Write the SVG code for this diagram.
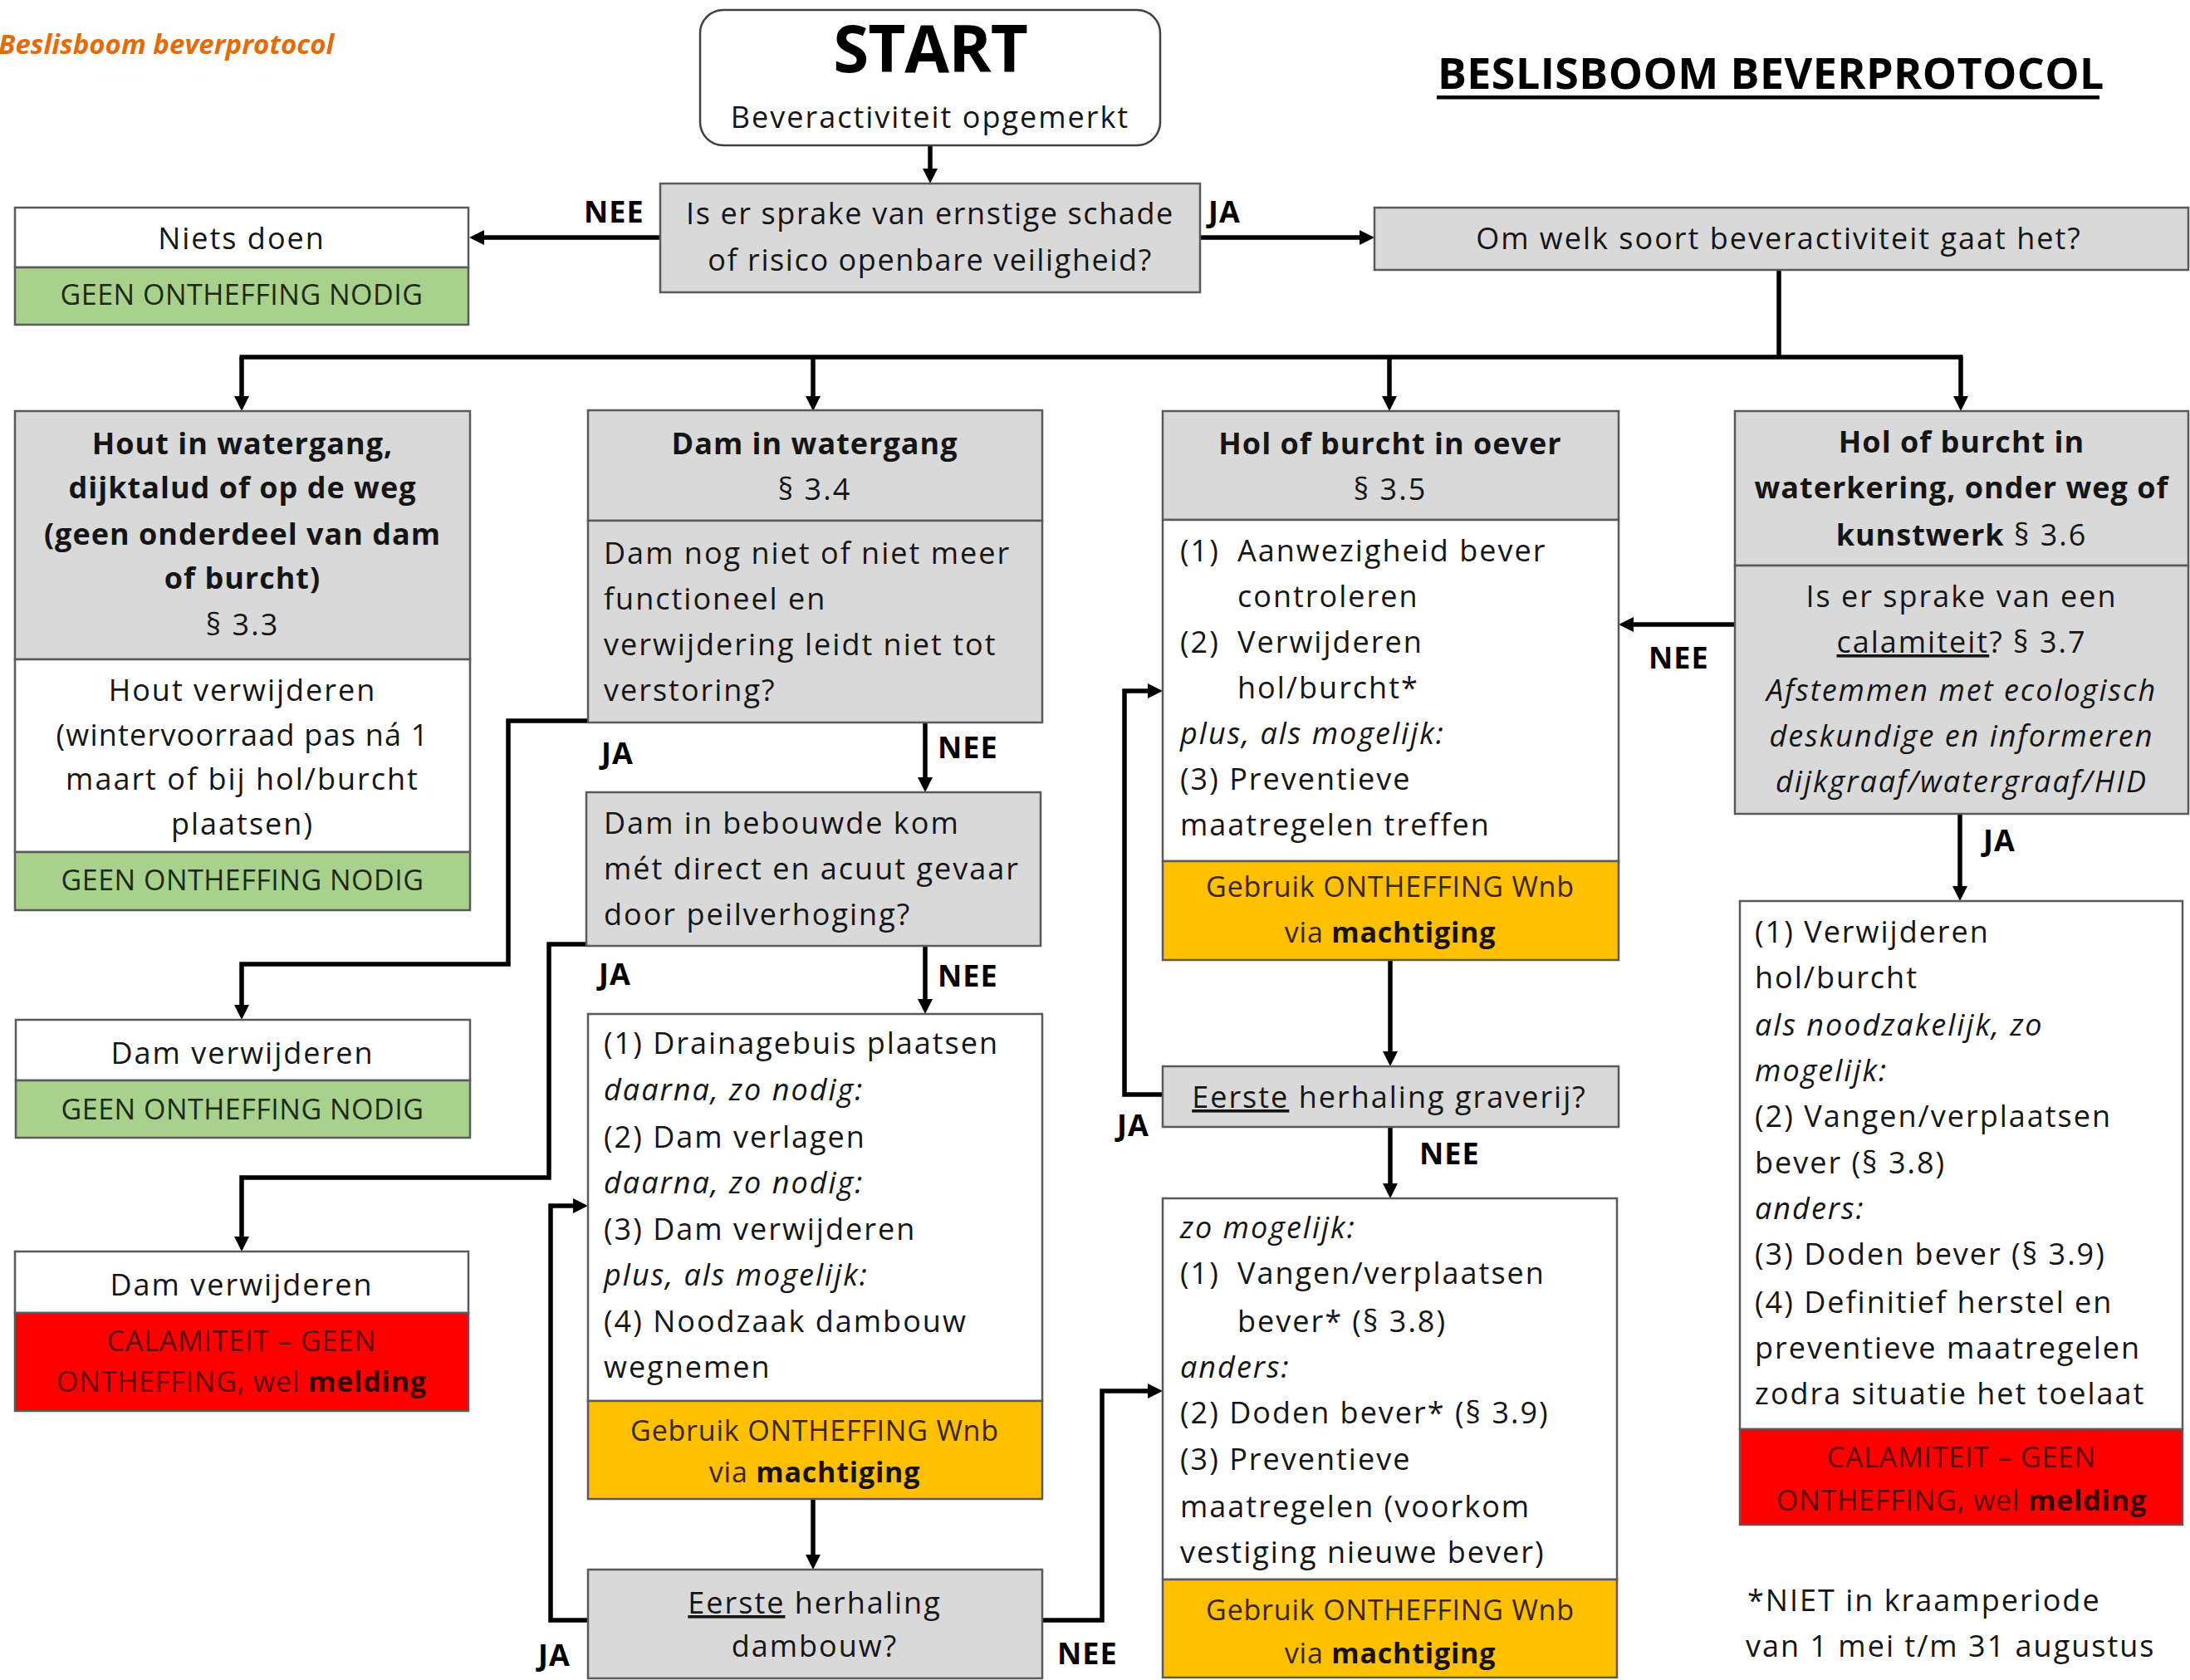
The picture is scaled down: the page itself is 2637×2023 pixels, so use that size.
<svg xmlns="http://www.w3.org/2000/svg" width="2637" height="2023" viewBox="0 0 2637 2023">
<defs>
<style>
text{font-family:"Open Sans","Liberation Sans",sans-serif;font-size:36px;fill:#151515;letter-spacing:2px}
.b{font-weight:bold;letter-spacing:1px}
.it{font-style:italic}
.m{text-anchor:middle}
.caps{font-size:34px;letter-spacing:0.8px}
.gt{fill:#1E2A12}
.ot{fill:#3B2600}
.rt{fill:#600000}
.lbl{font-weight:bold;letter-spacing:1px;fill:#000}
.u{text-decoration:underline}
.gray{fill:#D9D9D9;stroke:#5A5A5A;stroke-width:2.5}
.white{fill:#FFFFFF;stroke:#5A5A5A;stroke-width:2.5}
.green{fill:#A9D18E;stroke:#5A5A5A;stroke-width:2.5}
.orange{fill:#FFC000;stroke:#5A5A5A;stroke-width:2.5}
.red{fill:#FF0000;stroke:#5A5A5A;stroke-width:2.5}
.con{fill:none;stroke:#000;stroke-width:5.5}
.arr{marker-end:url(#ah)}
</style>
<marker id="ah" viewBox="0 0 10 10" refX="0" refY="5" markerWidth="18" markerHeight="18" markerUnits="userSpaceOnUse" orient="auto">
<path d="M0,0 L10,5 L0,10 z" fill="#000"/>
</marker>
</defs>
<rect x="0" y="0" width="2637" height="2023" fill="#FFFFFF"/>

<text x="-2" y="65" style="font-size:33px;font-weight:bold;font-style:italic;fill:#E36C09;letter-spacing:0px">Beslisboom beverprotocol</text>
<text x="1731" y="107" style="font-size:52px;font-weight:bold;letter-spacing:0.4px;fill:#000">BESLISBOOM BEVERPROTOCOL</text>
<rect x="1730" y="115" width="798" height="4.5" fill="#000"/>

<g id="connectors">
<path class="con arr" d="M1120,175 V203"/>
<path class="con arr" d="M795,286 H583"/>
<path class="con arr" d="M1445,286 H1637"/>
<path class="con" d="M2142,325 V430"/>
<path class="con" d="M288.5,430 H2363.5"/>
<path class="con arr" d="M291,430 V477"/>
<path class="con arr" d="M979,430 V477"/>
<path class="con arr" d="M1673,430 V477"/>
<path class="con arr" d="M2361,430 V477"/>
<path class="con arr" d="M708,868 H612 V1161 H291 V1210"/>
<path class="con arr" d="M1114,870 V936"/>
<path class="con arr" d="M706,1137 H661 V1418 H291 V1489"/>
<path class="con arr" d="M1114,1139 V1203"/>
<path class="con arr" d="M979,1805 V1872"/>
<path class="con arr" d="M708,1951 H663 V1452 H690"/>
<path class="con arr" d="M1255,1951 H1327 V1675 H1382"/>
<path class="con arr" d="M1674,1156 V1266"/>
<path class="con arr" d="M1400,1318 H1354 V832 H1382"/>
<path class="con arr" d="M1674,1357 V1425"/>
<path class="con arr" d="M2089,752 H1967"/>
<path class="con arr" d="M2360,980 V1067"/>
<text class="lbl" x="703" y="268">NEE</text>
<text class="lbl" x="1455" y="268">JA</text>
<text class="lbl" x="724" y="920">JA</text>
<text class="lbl" x="1129" y="913">NEE</text>
<text class="lbl" x="721" y="1186">JA</text>
<text class="lbl" x="1129" y="1188">NEE</text>
<text class="lbl" x="648" y="2006">JA</text>
<text class="lbl" x="1273" y="2004">NEE</text>
<text class="lbl" x="1345" y="1368">JA</text>
<text class="lbl" x="1709" y="1402">NEE</text>
<text class="lbl" x="1985" y="805">NEE</text>
<text class="lbl" x="2388" y="1025">JA</text>
</g>

<g id="start">
<rect x="843" y="12" width="554" height="163" rx="28" ry="28" fill="#FFFFFF" stroke="#404040" stroke-width="2.5"/>
<text class="m" x="1120" y="87" style="font-size:78px;font-weight:bold;letter-spacing:-1px;fill:#000">START</text>
<text class="m" x="1120" y="154">Beveractiviteit opgemerkt</text>
</g>

<g id="vraag-schade">
<rect class="gray" x="795" y="221" width="650" height="131"/>
<text class="m" x="1120" y="270" style="letter-spacing:1.6px">Is er sprake van ernstige schade</text>
<text class="m" x="1120" y="326" style="letter-spacing:1.6px">of risico openbare veiligheid?</text>
</g>

<g id="niets-doen">
<rect class="white" x="18" y="250" width="546" height="72"/>
<rect class="green" x="18" y="322" width="546" height="69"/>
<text class="m" x="291" y="300">Niets doen</text>
<text class="m caps gt" x="291" y="367" style="letter-spacing:0.5px">GEEN ONTHEFFING NODIG</text>
</g>

<g id="soort-activiteit">
<rect class="gray" x="1655" y="250" width="980" height="75"/>
<text class="m" x="2142" y="300">Om welk soort beveractiviteit gaat het?</text>
</g>

<g id="hout">
<rect class="gray" x="18" y="495" width="548" height="299"/>
<rect class="white" x="18" y="794" width="548" height="232"/>
<rect class="green" x="18" y="1026" width="548" height="70"/>
<text class="m b" x="292" y="547">Hout in watergang,</text>
<text class="m b" x="292" y="600">dijktalud of op de weg</text>
<text class="m b" x="292" y="656">(geen onderdeel van dam</text>
<text class="m b" x="292" y="709">of burcht)</text>
<text class="m" x="292" y="765">§ 3.3</text>
<text class="m" x="292" y="844">Hout verwijderen</text>
<text class="m" x="292" y="898" style="letter-spacing:1.2px">(wintervoorraad pas ná 1</text>
<text class="m" x="292" y="951">maart of bij hol/burcht</text>
<text class="m" x="292" y="1005">plaatsen)</text>
<text class="m caps gt" x="292" y="1072" style="letter-spacing:0.5px">GEEN ONTHEFFING NODIG</text>
</g>

<g id="dam-watergang">
<rect class="gray" x="708" y="494" width="547" height="133"/>
<rect class="gray" x="708" y="627" width="547" height="243"/>
<text class="m b" x="981" y="547">Dam in watergang</text>
<text class="m" x="981" y="602">§ 3.4</text>
<text x="727" y="679">Dam nog niet of niet meer</text>
<text x="727" y="734">functioneel en</text>
<text x="727" y="789">verwijdering leidt niet tot</text>
<text x="727" y="844">verstoring?</text>
</g>

<g id="dam-verwijderen-1">
<rect class="white" x="19" y="1228" width="547" height="73"/>
<rect class="green" x="19" y="1301" width="547" height="69"/>
<text class="m" x="292" y="1281">Dam verwijderen</text>
<text class="m caps gt" x="292" y="1348" style="letter-spacing:0.5px">GEEN ONTHEFFING NODIG</text>
</g>

<g id="dam-bebouwde-kom">
<rect class="gray" x="706" y="954" width="547" height="185"/>
<text x="727" y="1004">Dam in bebouwde kom</text>
<text x="727" y="1059">mét direct en acuut gevaar</text>
<text x="727" y="1114">door peilverhoging?</text>
</g>

<g id="dam-verwijderen-2">
<rect class="white" x="18" y="1507" width="546" height="74"/>
<rect class="red" x="18" y="1581" width="546" height="118"/>
<text class="m" x="291" y="1560">Dam verwijderen</text>
<text class="m caps rt" x="291" y="1627">CALAMITEIT – GEEN</text>
<text class="m caps rt" x="291" y="1676">ONTHEFFING, wel <tspan style="font-weight:bold;fill:#3A0000">melding</tspan></text>
</g>

<g id="drainage">
<rect class="white" x="708" y="1221" width="547" height="466"/>
<rect class="orange" x="708" y="1687" width="547" height="118"/>
<text x="727" y="1269">(1) Drainagebuis plaatsen</text>
<text class="it" x="727" y="1325">daarna, zo nodig:</text>
<text x="727" y="1382">(2) Dam verlagen</text>
<text class="it" x="727" y="1437">daarna, zo nodig:</text>
<text x="727" y="1493">(3) Dam verwijderen</text>
<text class="it" x="727" y="1548">plus, als mogelijk:</text>
<text x="727" y="1604">(4) Noodzaak dambouw</text>
<text x="727" y="1659">wegnemen</text>
<text class="m caps ot" x="981" y="1735">Gebruik ONTHEFFING Wnb</text>
<text class="m caps ot" x="981" y="1785">via <tspan style="font-weight:bold;fill:#1A1200">machtiging</tspan></text>
</g>

<g id="herhaling-dambouw">
<rect class="gray" x="708" y="1890" width="547" height="131"/>
<text class="m" x="981" y="1943"><tspan class="u">Eerste</tspan> herhaling</text>
<text class="m" x="981" y="1995">dambouw?</text>
</g>

<g id="hol-oever">
<rect class="gray" x="1400" y="495" width="549" height="131"/>
<rect class="white" x="1400" y="626" width="549" height="411"/>
<rect class="orange" x="1400" y="1037" width="549" height="119"/>
<text class="m b" x="1674" y="547">Hol of burcht in oever</text>
<text class="m" x="1674" y="602">§ 3.5</text>
<text x="1421" y="676">(1)<tspan x="1490">Aanwezigheid bever</tspan></text>
<text x="1490" y="731">controleren</text>
<text x="1421" y="786">(2)<tspan x="1490">Verwijderen</tspan></text>
<text x="1490" y="841">hol/burcht*</text>
<text class="it" x="1421" y="896">plus, als mogelijk:</text>
<text x="1421" y="951">(3) Preventieve</text>
<text x="1421" y="1006">maatregelen treffen</text>
<text class="m caps ot" x="1674" y="1080">Gebruik ONTHEFFING Wnb</text>
<text class="m caps ot" x="1674" y="1135">via <tspan style="font-weight:bold;fill:#1A1200">machtiging</tspan></text>
</g>

<g id="herhaling-graverij">
<rect class="gray" x="1400" y="1284" width="549" height="73"/>
<text class="m" x="1673" y="1334"><tspan class="u">Eerste</tspan> herhaling graverij?</text>
</g>

<g id="vangen-doden">
<rect class="white" x="1400" y="1443" width="547" height="459"/>
<rect class="orange" x="1400" y="1902" width="547" height="118"/>
<text class="it" x="1421" y="1491">zo mogelijk:</text>
<text x="1421" y="1546">(1)<tspan x="1490">Vangen/verplaatsen</tspan></text>
<text x="1490" y="1604">bever* (§ 3.8)</text>
<text class="it" x="1421" y="1659">anders:</text>
<text x="1421" y="1714">(2) Doden bever* (§ 3.9)</text>
<text x="1421" y="1770">(3) Preventieve</text>
<text x="1421" y="1827">maatregelen (voorkom</text>
<text x="1421" y="1882">vestiging nieuwe bever)</text>
<text class="m caps ot" x="1674" y="1951">Gebruik ONTHEFFING Wnb</text>
<text class="m caps ot" x="1674" y="2003">via <tspan style="font-weight:bold;fill:#1A1200">machtiging</tspan></text>
</g>

<g id="hol-waterkering">
<rect class="gray" x="2089" y="495" width="546" height="186"/>
<rect class="gray" x="2089" y="681" width="546" height="299"/>
<text class="m b" x="2362" y="545">Hol of burcht in</text>
<text class="m b" x="2362" y="600">waterkering, onder weg of</text>
<text class="m" x="2362" y="657"><tspan class="b">kunstwerk</tspan> § 3.6</text>
<text class="m" x="2362" y="731">Is er sprake van een</text>
<text class="m" x="2362" y="786"><tspan class="u">calamiteit</tspan>? § 3.7</text>
<text class="m it" x="2362" y="844">Afstemmen met ecologisch</text>
<text class="m it" x="2362" y="899">deskundige en informeren</text>
<text class="m it" x="2362" y="954">dijkgraaf/watergraaf/HID</text>
</g>

<g id="calamiteit-maatregelen">
<rect class="white" x="2095" y="1085" width="533" height="636"/>
<rect class="red" x="2095" y="1721" width="533" height="115"/>
<text x="2113" y="1135">(1) Verwijderen</text>
<text x="2113" y="1190">hol/burcht</text>
<text class="it" x="2113" y="1247">als noodzakelijk, zo</text>
<text class="it" x="2113" y="1302">mogelijk:</text>
<text x="2113" y="1357">(2) Vangen/verplaatsen</text>
<text x="2113" y="1413">bever (§ 3.8)</text>
<text class="it" x="2113" y="1468">anders:</text>
<text x="2113" y="1523">(3) Doden bever (§ 3.9)</text>
<text x="2113" y="1581">(4) Definitief herstel en</text>
<text x="2113" y="1636">preventieve maatregelen</text>
<text x="2113" y="1691">zodra situatie het toelaat</text>
<text class="m caps rt" x="2362" y="1767">CALAMITEIT – GEEN</text>
<text class="m caps rt" x="2362" y="1819">ONTHEFFING, wel <tspan style="font-weight:bold;fill:#3A0000">melding</tspan></text>
</g>

<g id="voetnoot">
<text x="2104" y="1940">*NIET in kraamperiode</text>
<text x="2102" y="1995">van 1 mei t/m 31 augustus</text>
</g>
</svg>
